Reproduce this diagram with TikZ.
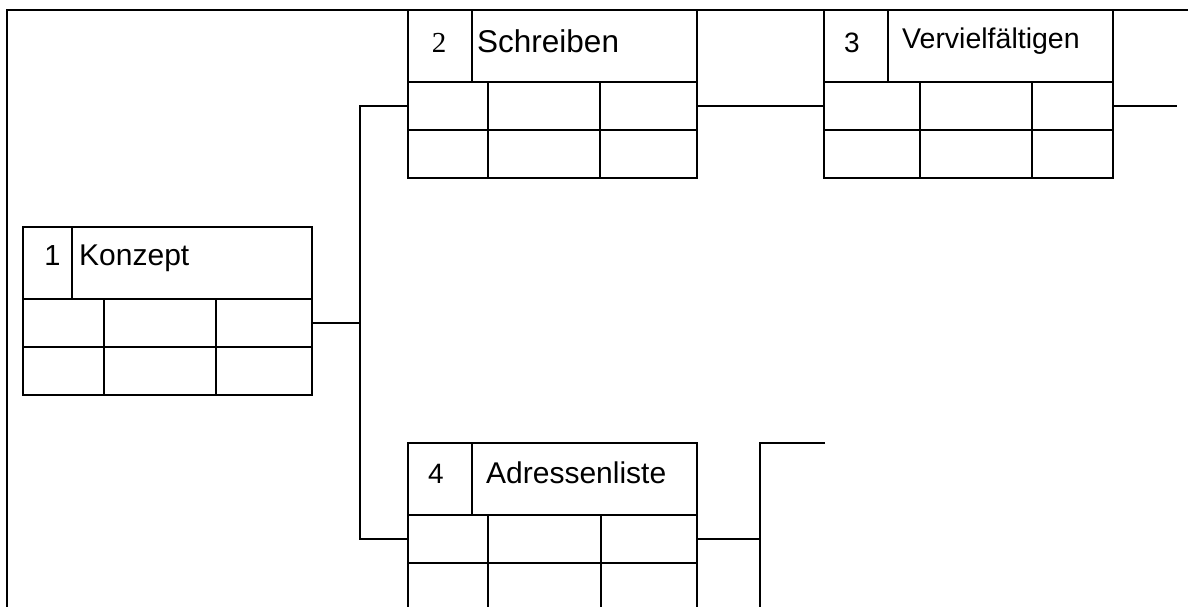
\documentclass[tikz,border=0pt]{standalone}
\usepackage{fontspec}
\setmainfont{Liberation Sans}
\newfontfamily\serifnum{Liberation Serif}

\tikzset{
  wire/.style={line width=2pt},
  card/.style={draw, line width=2pt, rectangle, minimum width=289pt,
    minimum height=168pt, inner sep=0pt, outer sep=0pt, anchor=north west},
  cardnum/.style={inner sep=0pt, anchor=base, font=\fontsize{29}{29}\selectfont},
  cardtitle/.style={inner sep=0pt, anchor=base west, font=\fontsize{30}{30}\selectfont},
}

% One task card: title row (number | label), then two rows of three cells.
% #1 name, #2 left, #3 top, #4 number divider, #5/#6 cell dividers (offsets from left)
\newcommand\taskcard[6]{%
  \node[card] (#1) at (#2,#3) {};
  \draw[wire] ([yshift=-72pt]#1.north west) -- ([yshift=-72pt]#1.north east);
  \draw[wire] ([yshift=-120pt]#1.north west) -- ([yshift=-120pt]#1.north east);
  \draw[wire] ([xshift=#4pt]#1.north west) -- ([xshift=#4pt,yshift=-72pt]#1.north west);
  \draw[wire] ([xshift=#5pt,yshift=-72pt]#1.north west) -- ([xshift=#5pt]#1.south west);
  \draw[wire] ([xshift=#6pt,yshift=-72pt]#1.north west) -- ([xshift=#6pt]#1.south west);
  \coordinate (#1-in) at ([yshift=-96pt]#1.north west);
  \coordinate (#1-out) at ([yshift=-96pt]#1.north east);
}

\begin{document}
\begin{tikzpicture}[x=1pt, y=-1pt]
  \clip (0,0) rectangle (1188,606);
  \fill[white] (0,0) rectangle (1188,606);

  % page frame (top and left edges)
  \coordinate (frameTR) at (1190,10);
  \coordinate (frameTL) at (7,10);
  \coordinate (frameBL) at (7,620);
  \draw[wire] (frameTR) -- (frameTL) -- (frameBL);

  % cards
  \taskcard{k1}{23}{227}{49}{81}{193}
  \taskcard{k2}{408}{10}{64}{80}{192}
  \taskcard{k3}{824}{10}{64}{96}{208}
  \taskcard{k4}{408}{443}{64}{80}{193}

  % card texts
  \node[cardnum] (n1) at (52.5,265) {1};
  \node[cardtitle] (t1) at (79,265) {Konzept};
  \node[cardnum, font=\serifnum\fontsize{29}{29}\selectfont] (n2) at (439,52) {2};
  \node[cardtitle, font=\fontsize{31.5}{31.5}\selectfont] (t2) at (477,52) {Schreiben};
  \node[cardnum, font=\fontsize{28}{28}\selectfont] (n3) at (852,52) {3};
  \node[cardtitle, font=\fontsize{28.5}{28.5}\selectfont] (t3) at (902,48) {Vervielfältigen};
  \node[cardnum, font=\fontsize{28}{28}\selectfont] (n4) at (436,483) {4};
  \node[cardtitle] (t4) at (486,483) {Adressenliste};

  % connectors
  \coordinate (bus) at (360,0);
  \draw[wire] (k2-in) -- (k2-in -| bus) -- (k4-in -| bus) -- (k4-in);
  \draw[wire] (k1-out) -- (k1-out -| bus);
  \draw[wire] (k2-out) -- (k3-in);
  \coordinate (k3-next) at ([xshift=64pt]k3-out);
  \draw[wire] (k3-out) -- (k3-next);

  \coordinate (bus2top) at (760,443);
  \coordinate (bus2bot) at (760,620);
  \coordinate (bus2next) at (825,443);
  \draw[wire] (k4-out) -- (k4-out -| bus2top);
  \draw[wire] (bus2next) -- (bus2top) -- (bus2bot);
\end{tikzpicture}
\end{document}
